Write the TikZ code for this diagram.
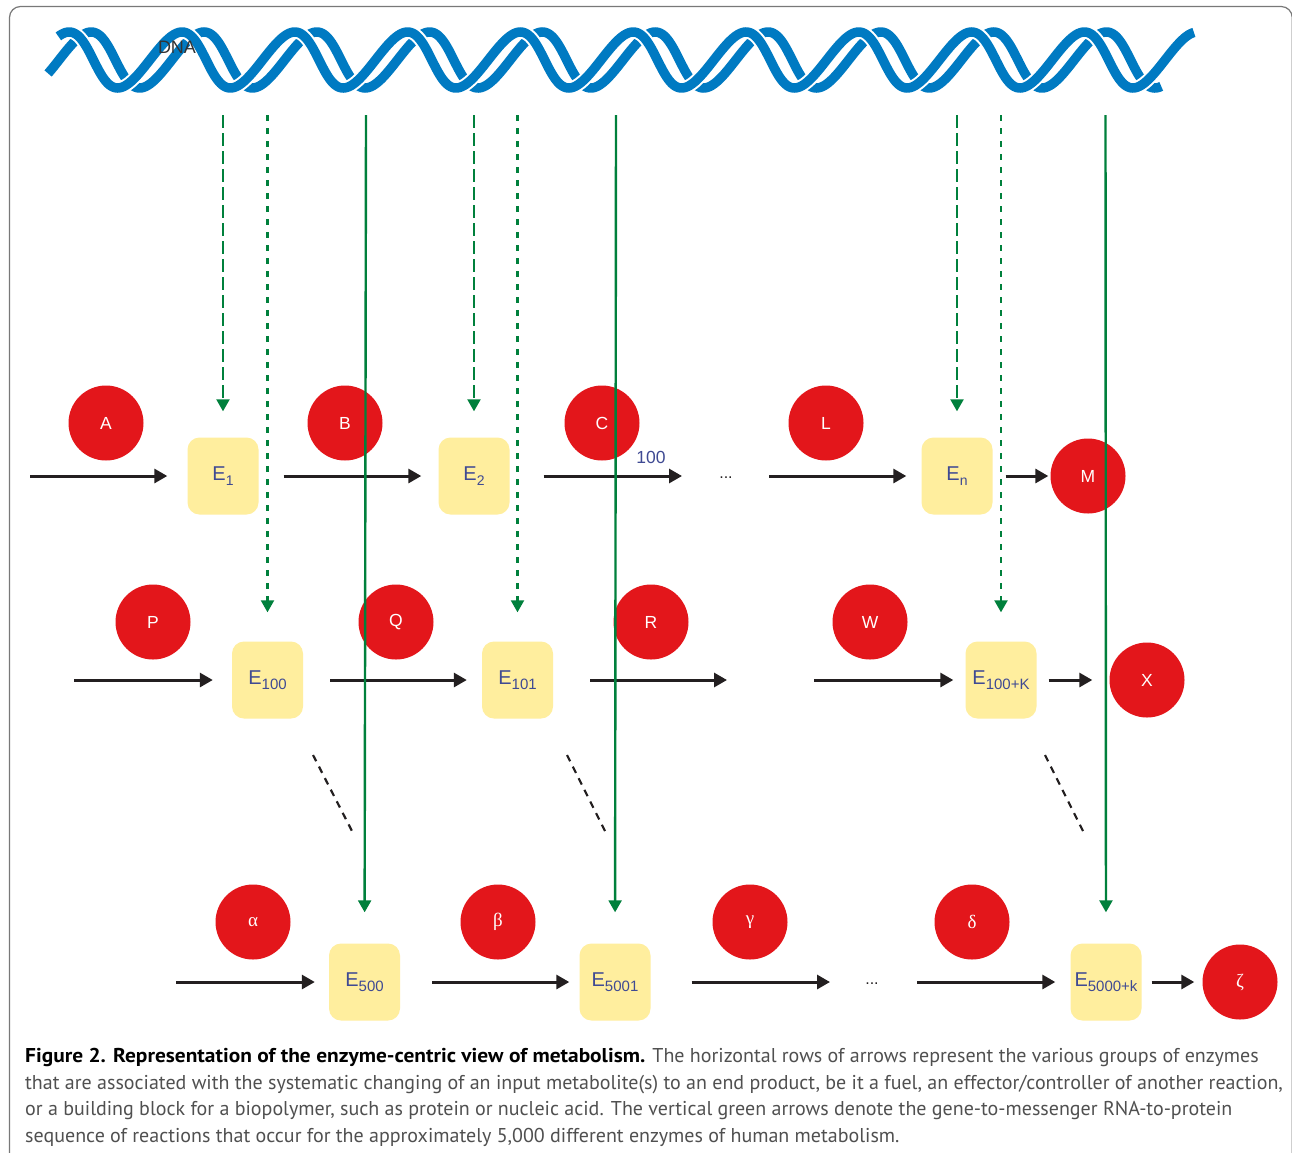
\documentclass[tikz,border=0pt]{standalone}
\usepackage{fontspec}
\setmainfont{Liberation Sans}
\newfontfamily\capfont{PT Sans}
\newfontfamily\capboldfont[FakeStretch=1.07]{PT Sans}
\newfontfamily\grkfont{Liberation Serif}
\usetikzlibrary{arrows.meta}
\definecolor{dnablue}{RGB}{0,122,194}
\definecolor{mred}{RGB}{227,22,27}
\definecolor{eboxc}{RGB}{255,238,158}
\definecolor{etext}{RGB}{63,74,147}
\definecolor{ggreen}{RGB}{0,128,60}
\definecolor{framec}{RGB}{120,120,120}
\definecolor{arrc}{RGB}{35,31,32}
\definecolor{capgray}{RGB}{80,80,80}
\newcommand\enzlab[1]{E\raisebox{-4.5pt}{\fontsize{15}{15}\selectfont #1}}
\newcommand\enzlabs[1]{E\raisebox{-5.5pt}{\fontsize{14}{14}\selectfont #1}}
\begin{document}
\begin{tikzpicture}[x=1pt,y=-1pt,
  metab/.style={circle, fill=mred, minimum size=75pt, inner sep=0pt, text=white, font=\fontsize{17.5}{17.5}\selectfont},
  grk/.style={font=\grkfont\fontsize{19}{19}\selectfont},
  enz/.style={rectangle, rounded corners=12pt, fill=eboxc, minimum width=71pt, minimum height=77pt, inner sep=0pt, text=etext, font=\fontsize{20}{20}\selectfont},
  rxn/.style={draw=arrc, line width=3pt, -{Triangle[length=13pt,width=14pt]}},
  gsolid/.style={draw=ggreen, line width=2.4pt, -{Triangle[length=12pt,width=13pt]}},
  glong/.style={gsolid, line width=2.2pt, dash pattern=on 13pt off 5pt},
  gshort/.style={gsolid, line width=2.2pt, dash pattern=on 6pt off 7pt},
  ddiag/.style={draw=arrc, line width=2.2pt, dash pattern=on 7pt off 6pt},
  dots/.style={text=arrc, font=\fontsize{16}{16}\selectfont, inner sep=0pt},
  capline/.style={anchor=base west, inner sep=0pt, text=capgray, font=\capfont\fontsize{20}{20}\selectfont},
  strand/.style={draw=dnablue, line width=9.5pt}
]
\useasboundingbox (0,0) rectangle (1292,1152);
\fill[white] (0,0) rectangle (1292,1152);
% frame
\draw[framec, line width=1.2pt, rounded corners=11pt] (9.5,1165) -- (9.5,6.5) -- (1292.2,6.5) -- (1292.2,1165);
% DNA helix
\draw[strand] plot[domain=50:1165, samples=700, variable=\t]
  ({\t-4*cos((\t-143.6)*3.19149)}, {60+28*cos((\t-143.6)*3.19149)});
\draw[white, line width=13.5pt] plot[domain=55.5:1189.7, samples=700, variable=\t]
  ({\t-4*cos((\t-121.6)*3.19149)}, {60+28*cos((\t-121.6)*3.19149)});
\draw[strand] plot[domain=55:1190, samples=700, variable=\t]
  ({\t-4*cos((\t-121.6)*3.19149)}, {60+28*cos((\t-121.6)*3.19149)});
\node[text=black!80, font=\fontsize{18}{18}\selectfont, inner sep=0pt] (dna) at (177,47) {DNA};

% row 1
\node[metab] (A) at (106,423) {A};
\node[metab] (B) at (345,423) {B};
\node[metab] (C) at (602,423) {C};
\node[metab] (L) at (826,423) {L};
\node[metab] (M) at (1088,476) {M};
\node[enz] (e1) at (223,476) {\enzlabs{1}};
\node[enz] (e2) at (474,476) {\enzlabs{2}};
\node[enz] (en) at (957,476) {\enzlabs{n}};
\node[text=etext, font=\fontsize{17.5}{17.5}\selectfont, inner sep=0pt] (hund) at (651,457) {100};
\node[dots] (dots1) at (726,478) {...};
\coordinate (s1) at (30,476);
\coordinate (t3) at (682,476);
\coordinate (s4) at (769,476);
\draw[rxn, shorten >=20pt] (s1) -- (e1);
\draw[rxn, shorten <=25pt, shorten >=17pt] (e1) -- (e2);
\draw[rxn, shorten <=34pt] (e2.east) -- (t3);
\draw[rxn, shorten >=15pt] (s4) -- (en);
\draw[rxn, shorten <=13pt, shorten >=2pt] (en) -- (M);

% row 2
\node[metab] (P) at (153,622) {P};
\node[metab] (Q) at (396,622) {Q};
\node[metab] (R) at (651,622) {R};
\node[metab] (W) at (870,622) {W};
\node[metab] (X) at (1147,680) {X};
\node[enz] (e100) at (267.5,680) {\enzlab{100}};
\node[enz] (e101) at (517.5,680) {\enzlab{101}};
\node[enz] (e100k) at (1001,680) {\enzlab{100+K}};
\coordinate (u1) at (74,680);
\coordinate (v3) at (727,680);
\coordinate (u4) at (814,680);
\draw[rxn, shorten >=19pt] (u1) -- (e100);
\draw[rxn, shorten <=27pt, shorten >=15pt] (e100) -- (e101);
\draw[rxn, shorten <=37pt] (e101.east) -- (v3);
\draw[rxn, shorten >=12pt] (u4) -- (e100k);
\draw[rxn, shorten <=12pt, shorten >=17pt] (e100k) -- (X);

% diagonal dashes
\coordinate (d1a) at (313,755); \coordinate (d1b) at (353,833);
\coordinate (d2a) at (567,755); \coordinate (d2b) at (606,833);
\coordinate (d3a) at (1045,755); \coordinate (d3b) at (1084,833);
\draw[ddiag] (d1a) -- (d1b);
\draw[ddiag] (d2a) -- (d2b);
\draw[ddiag] (d3a) -- (d3b);

% row 3
\node[metab, grk] (al) at (253,922) {α};
\node[metab, grk] (be) at (498,922) {β};
\node[metab, grk] (ga) at (750,922) {γ};
\node[metab, grk] (de) at (972,922) {δ};
\node[metab, grk] (ze) at (1240,982) {ζ};
\node[enz] (e500) at (364.5,982) {\enzlab{500}};
\node[enz] (e5001) at (615,982) {\enzlab{5001}};
\node[enz] (e5000) at (1106,982) {\enzlab{5000+k}};
\node[dots] (dots3) at (872,984) {...};
\coordinate (w1) at (176,982);
\coordinate (z3) at (830,982);
\coordinate (w4) at (917,982);
\draw[rxn, shorten >=14pt] (w1) -- (e500);
\draw[rxn, shorten <=32pt, shorten >=10pt] (e500) -- (e5001);
\draw[rxn, shorten <=41pt] (e5001.east) -- (z3);
\draw[rxn, shorten >=15pt] (w4) -- (e5000);
\draw[rxn, shorten <=10pt, shorten >=8pt] (e5000) -- (ze);

% green gene arrows
\coordinate (g1) at (223,115);
\coordinate (g2) at (267.5,115);
\coordinate (g3) at (366,115);
\coordinate (g4) at (474,115);
\coordinate (g5) at (517.5,115);
\coordinate (g6) at (616,115);
\coordinate (g7) at (957,115);
\coordinate (g8) at (1001,115);
\coordinate (g9) at (1105.5,115);
\draw[glong, shorten >=26pt] (g1) -- (e1);
\draw[gshort, shorten >=29pt] (g2) -- (e100);
\draw[gsolid, shorten >=31pt] (g3) -- (e500);
\draw[glong, shorten >=26pt] (g4) -- (e2);
\draw[gshort, shorten >=29pt] (g5) -- (e101);
\draw[gsolid, shorten >=31pt] (g6) -- (e5001);
\draw[glong, shorten >=26pt] (g7) -- (en);
\draw[gshort, shorten >=29pt] (g8) -- (e100k);
\draw[gsolid, shorten >=31pt] (g9) -- (e5000);

% caption
\node[capline] (cap1) at (25,1062) {\textcolor{black}{\capboldfont\bfseries Figure 2. Representation of the enzyme-centric view of metabolism.} The horizontal rows of arrows represent the various groups of enzymes};
\node[capline] (cap2) at (25,1089) {that are associated with the systematic changing of an input metabolite(s) to an end product, be it a fuel, an effector/controller of another reaction,};
\node[capline] (cap3) at (25,1115) {or a building block for a biopolymer, such as protein or nucleic acid. The vertical green arrows denote the gene-to-messenger RNA-to-protein};
\node[capline] (cap4) at (25,1142) {sequence of reactions that occur for the approximately 5,000 different enzymes of human metabolism.};
\end{tikzpicture}
\end{document}
